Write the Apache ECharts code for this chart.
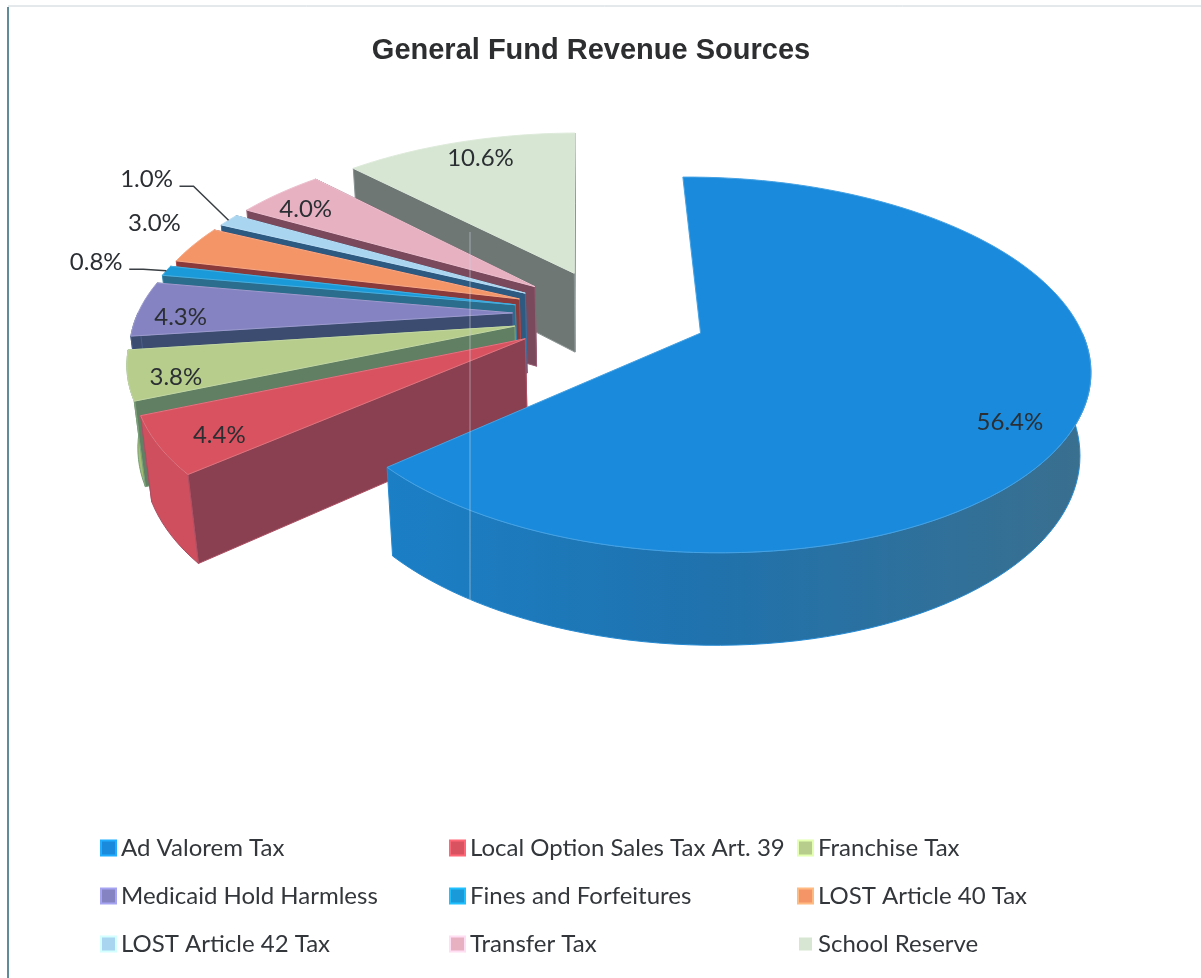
<!DOCTYPE html>
<html>
<head>
<meta charset="utf-8">
<style>
  html, body { margin: 0; padding: 0; background: #fff; }
  #chart { width: 1201px; height: 978px; }
</style>
<script src="https://cdn.jsdelivr.net/npm/echarts@6/dist/echarts.min.js"></script>
</head>
<body>
<div id="chart"></div>
<script>
// values as printed on the slices (they sum to 88.3, the pie normalises them)
var names = ["Ad Valorem Tax", "Local Option Sales Tax Art. 39", "Franchise Tax",
  "Medicaid Hold Harmless", "Fines and Forfeitures", "LOST Article 40 Tax",
  "LOST Article 42 Tax", "Transfer Tax", "School Reserve"];
var values = [56.4, 4.4, 3.8, 4.3, 0.8, 3.0, 1.0, 4.0, 10.6];

var topColors = ["#1a8bdc", "#d9525f", "#b6cd8c", "#8583c2", "#1a9ad8", "#f49568", "#a9d5f0", "#e8b1c2", "#d6e6d2"];
var wallColors = ["#2a78ac", "#cf4f5e", "#a3bd72", "#3c4c70", "#2a6d8c", "#8a3a3a", "#2d5a80", "#7a4a5c", "#6f7775"];
var cutColors = ["#1f6fa8", "#8a4050", "#617f62", "#3c4c70", "#2a6d8c", "#8a3a3a", "#2d5a80", "#7a4a5c", "#6f7775"];

// pixel nudges of the value labels from their anchor on the slice
var labelNudge = [[9, 26], [1, 7], [-12, 10], [-15, 8], [-3, -2], [52, -6], [-1, -21], [-9, 3], [6, -1]];
var labelFrac = [0.8, 0.85, 0.85, 0.85, 1.2, 1.3, 1.3, 0.85, 0.85];
var hasLeader = [false, false, false, false, true, false, true, false, false];

// 3d view of the pie
var CX = 610, CY = 314, R = 375;
var TILT = 28 * Math.PI / 180, FOCAL = 5.3, DEPTH = 0.25, EXPLODE = 0.26, START = -0.8;

var total = values.reduce(function (a, b) { return a + b; }, 0);

function project(x, y, z) {
  var py = y * Math.cos(TILT) - z * Math.sin(TILT);
  var d = y * Math.sin(TILT) + z * Math.cos(TILT);
  var s = FOCAL / (FOCAL - d);
  return [CX + x * s * R, CY - py * s * R];
}

var slices = [];
var acc = START;
values.forEach(function (v) {
  var span = v / total * 360;
  slices.push({ a0: acc, a1: acc + span, mid: acc + span / 2 });
  acc += span;
});

function rim(slice, deg, y, frac) {
  var m = slice.mid * Math.PI / 180, t = deg * Math.PI / 180;
  var f = frac === undefined ? 1 : frac;
  return project(EXPLODE * Math.sin(m) + f * Math.sin(t), y, -EXPLODE * Math.cos(m) - f * Math.cos(t));
}

function arc(slice, from, to, y) {
  var pts = [];
  var n = Math.max(2, Math.ceil((to - from) / 2));
  for (var i = 0; i <= n; i++) {
    pts.push(rim(slice, from + (to - from) * i / n, y));
  }
  return pts;
}

function poly(points, fill, stroke) {
  return { type: "polygon", shape: { points: points }, style: { fill: fill, stroke: stroke, lineWidth: 1 } };
}

function renderSlice(i) {
  var s = slices[i];
  var apexTop = rim(s, s.mid, 0, 0), apexBot = rim(s, s.mid, -DEPTH, 0);
  var top = arc(s, s.a0, s.a1, 0);
  var dark = echarts.color.lift(cutColors[i], -0.25);
  var children = [];
  // the big slice shows no cut faces in its notch
  if (i > 0) {
    children.push(poly([apexTop, rim(s, s.a1, 0), rim(s, s.a1, -DEPTH), apexBot], cutColors[i], dark));
    children.push(poly([apexTop, rim(s, s.a0, 0), rim(s, s.a0, -DEPTH), apexBot], cutColors[i], dark));
  }
  // outer wall only on the part of the rim that faces the viewer
  var from = Math.max(s.a0, 90), to = Math.min(s.a1, 270);
  if (to > from) {
    var wallFill = i === 0
      ? { type: "linear", x: 0, y: 0, x2: 1, y2: 0, colorStops: [
          { offset: 0, color: "#1b7fc6" }, { offset: 0.45, color: "#1f72ad" }, { offset: 1, color: "#3a6f8e" }] }
      : wallColors[i];
    children.push(poly(arc(s, from, to, 0).concat(arc(s, from, to, -DEPTH).reverse()), wallFill, dark));
  }
  children.push(poly([apexTop].concat(top), topColors[i], echarts.color.lift(topColors[i], 0.2)));
  return { type: "group", children: children };
}

function renderLabel(params, api) {
  var i = params.dataIndex;
  var s = slices[i];
  var anchor = rim(s, s.mid, 0, labelFrac[i]);
  var x = anchor[0] + labelNudge[i][0], y = anchor[1] + labelNudge[i][1];
  var children = [{
    type: "text",
    style: { x: x, y: y, text: api.value(0).toFixed(1) + "%", align: "center", verticalAlign: "middle",
      font: "24px Lato", fill: "#2b2f33" }
  }];
  if (hasLeader[i]) {
    var tip = rim(s, s.mid, 0, 1);
    children.push({
      type: "polyline",
      shape: { points: [[x + 33, y + 7], [x + 47, y + 7], tip] },
      style: { fill: "none", stroke: "#3a3f44", lineWidth: 1.5 }
    });
  }
  return { type: "group", children: children };
}

var series = names.map(function (name, i) {
  return {
    type: "custom",
    name: name,
    coordinateSystem: "none",
    silent: true,
    z: 10 + names.length - i,
    itemStyle: { color: topColors[i], borderColor: echarts.color.lift(topColors[i], -0.25), borderWidth: 1.5 },
    data: [[values[i]]],
    renderItem: function () { return renderSlice(i); }
  };
});
series.push({
  type: "custom",
  name: "labels",
  coordinateSystem: "none",
  silent: true,
  z: 50,
  data: values.map(function (v) { return [v]; }),
  renderItem: renderLabel
});

function legendColumn(left, items) {
  return {
    left: left, top: 831, orient: "vertical", selectedMode: false,
    itemWidth: 15, itemHeight: 15, itemGap: 24,
    data: items,
    icon: "rect",
    textStyle: { fontFamily: "Lato", fontSize: 24, color: "#33373b" }
  };
}

var chart = echarts.init(document.getElementById("chart"));
chart.setOption({
  animation: false,
  backgroundColor: "#fff",
  title: {
    text: "General Fund Revenue Sources",
    left: 586, top: 31, textAlign: "center",
    textStyle: { fontFamily: "Liberation Sans", fontSize: 29, fontWeight: "bold", color: "#2c2e30" }
  },
  legend: [
    legendColumn(95, [names[0], names[3], names[6]]),
    legendColumn(444, [names[1], names[4], names[7]]),
    legendColumn(792, [names[2], names[5], names[8]])
  ],
  graphic: [
    { type: "line", z: 100, silent: true, shape: { x1: 8, y1: 7, x2: 8, y2: 978 }, style: { stroke: "#5f8b9b", lineWidth: 2 } },
    { type: "line", z: 100, silent: true, shape: { x1: 8, y1: 6, x2: 1201, y2: 6 }, style: { stroke: "#c9d2d6", lineWidth: 1 } },
    { type: "line", z: 100, silent: true, shape: { x1: 470, y1: 232, x2: 470, y2: 600 }, style: { stroke: "rgba(205,212,218,0.55)", lineWidth: 1 } }
  ],
  series: series
});
</script>
</body>
</html>
